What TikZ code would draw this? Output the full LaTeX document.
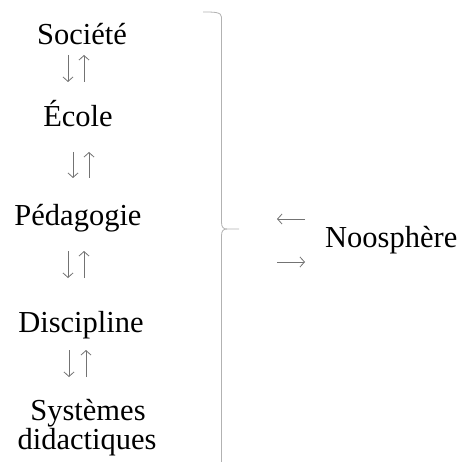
\documentclass[tikz,border=0pt]{standalone}
\usepackage{fontspec}
\setmainfont{Liberation Serif}
\usetikzlibrary{arrows.meta}
\begin{document}
\begin{tikzpicture}[x=1pt,y=-1pt,
  lbl/.style={anchor=base,inner sep=0pt,font=\fontsize{30.5}{34}\selectfont},
  arr/.style={-{Straight Barb[length=4.5pt,width=10pt,line width=0.8pt]},draw=black!55,line width=0.8pt},
  brace/.style={draw=black!30,line width=0.8pt}]
\useasboundingbox (0,0) rectangle (461,462);
\node[lbl] (s1) at (82,45) {Société};
\node[lbl] (s2) at (78,127) {École};
\node[lbl] (s3) at (78,225) {Pédagogie};
\node[lbl] (s4) at (81,332) {Discipline};
\node[lbl] (s5) at (88,420) {Systèmes};
\node[lbl] (s6) at (87,449) {didactiques};
\node[lbl,anchor=base west] (noos) at (325,247) {Noosphère};
% vertical arrow pairs
\foreach \i/\xd/\xu/\ya/\yb in {1/68/84/55/82, 2/73/89/152/178, 3/68/84/251/278, 4/69/86/350/377}{
  \coordinate (d\i a) at (\xd,\ya); \coordinate (d\i b) at (\xd,\yb);
  \coordinate (u\i a) at (\xu,\yb); \coordinate (u\i b) at (\xu,\ya);
  \draw[arr] (d\i a) -- (d\i b);
  \draw[arr] (u\i a) -- (u\i b);
}
% horizontal arrows
\coordinate (la) at (305,219); \coordinate (lb) at (277,219);
\coordinate (ra) at (277,262); \coordinate (rb) at (305,262);
\draw[arr] (la) -- (lb);
\draw[arr] (ra) -- (rb);
% brace
\coordinate (btop) at (203,12);
\coordinate (btip) at (239,229);
\coordinate (bbot) at (221.5,470);
\draw[brace] (btop) .. controls (214,12) and (221.5,12) .. (221.5,17)
  -- (221.5,222) .. controls (221.5,227) and (223,229) .. (227,229) -- (btip);
\draw[brace] (227,229) .. controls (223,229) and (221.5,231) .. (221.5,236) -- (bbot);
\end{tikzpicture}
\end{document}
